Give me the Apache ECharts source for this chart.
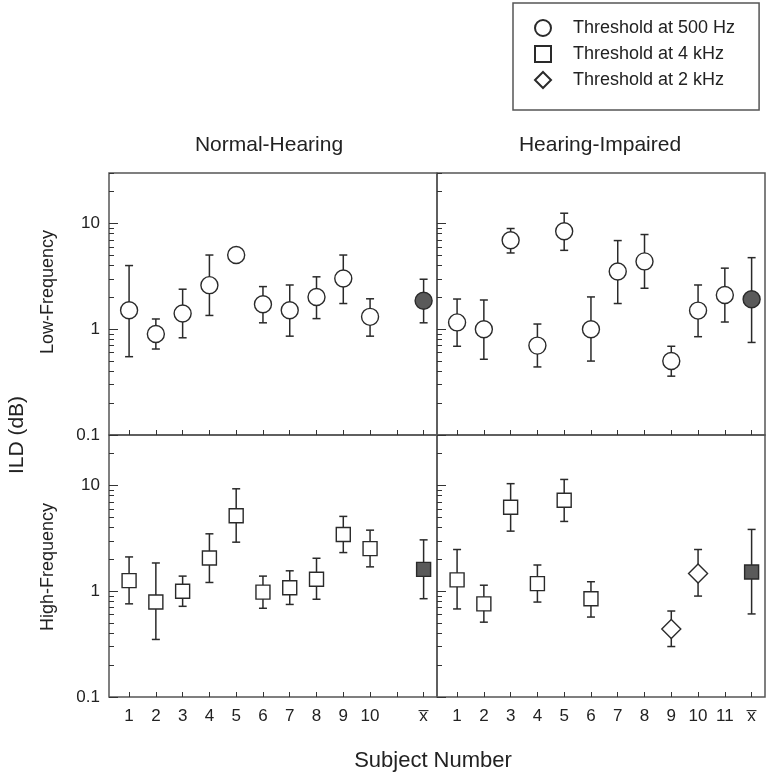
<!DOCTYPE html>
<html>
<head>
<meta charset="utf-8">
<script src="https://cdn.jsdelivr.net/npm/echarts@6/dist/echarts.min.js"></script>
<style>
html, body { margin: 0; padding: 0; background: #fff; }
#container { width: 771px; height: 778px; }
</style>
</head>
<body>
<div id="container"></div>
<script>
// tick labels of the two x axes (positions 1..12, 12 = mean)
var nhTickLabels = ['1', '2', '3', '4', '5', '6', '7', '8', '9', '10', '', 'x\u0305'];
var hiTickLabels = ['1', '2', '3', '4', '5', '6', '7', '8', '9', '10', '11', 'x\u0305'];
var xTickPos = [1, 2, 3, 4, 5, 6, 7, 8, 9, 10, 11, 12];
var yMajor = [0.1, 1, 10];
var yMinor = [0.2, 0.3, 0.4, 0.5, 0.6, 0.7, 0.8, 0.9, 2, 3, 4, 5, 6, 7, 8, 9, 20, 30];
var meanPos = 12;

// Normal-Hearing, low frequency (500 Hz)
var nhSubjects = [1, 2, 3, 4, 5, 6, 7, 8, 9, 10];
var nhLow = [1.51, 0.90, 1.41, 2.61, 5.03, 1.72, 1.51, 2.02, 3.02, 1.31];
var nhLowLo = [0.55, 0.65, 0.83, 1.35, 4.7, 1.15, 0.86, 1.26, 1.75, 0.86];
var nhLowHi = [4.0, 1.25, 2.39, 5.03, 5.4, 2.53, 2.62, 3.13, 5.03, 1.94];
var nhLowMean = [1.86, 1.15, 2.97]; // value, lo, hi

// Hearing-Impaired, low frequency (500 Hz)
var hiSubjects = [1, 2, 3, 4, 5, 6, 7, 8, 9, 10, 11];
var hiLow = [1.16, 1.0, 6.94, 0.70, 8.45, 1.0, 3.52, 4.38, 0.50, 1.50, 2.11];
var hiLowLo = [0.69, 0.52, 5.26, 0.44, 5.57, 0.50, 1.75, 2.44, 0.36, 0.85, 1.17];
var hiLowHi = [1.93, 1.89, 8.96, 1.12, 12.5, 2.02, 6.89, 7.86, 0.69, 2.62, 3.78];
var hiLowMean = [1.92, 0.75, 4.75];

// Normal-Hearing, high frequency (4 kHz)
var nhHigh = [1.26, 0.79, 1.0, 2.06, 5.18, 0.98, 1.08, 1.30, 3.44, 2.53];
var nhHighLo = [0.76, 0.35, 0.72, 1.21, 2.91, 0.69, 0.75, 0.84, 2.32, 1.70];
var nhHighHi = [2.11, 1.85, 1.39, 3.49, 9.3, 1.39, 1.56, 2.05, 5.1, 3.78];
var nhHighMean = [1.61, 0.85, 3.06];

// Hearing-Impaired, high frequency (4 kHz squares, 2 kHz diamonds)
var hiSqSubjects = [1, 2, 3, 4, 5, 6];
var hiHigh = [1.28, 0.76, 6.22, 1.18, 7.25, 0.85];
var hiHighLo = [0.68, 0.51, 3.70, 0.79, 4.57, 0.57];
var hiHighHi = [2.48, 1.14, 10.4, 1.77, 11.4, 1.23];
var hiDiaSubjects = [9, 10];
var hi2k = [0.44, 1.47];
var hi2kLo = [0.30, 0.90];
var hi2kHi = [0.65, 2.48];
var hiHighMean = [1.52, 0.61, 3.84];

var FONT = '"Liberation Sans", Arial, sans-serif';
var INK = '#222';
var names = ['Threshold at 500 Hz', 'Threshold at 4 kHz', 'Threshold at 2 kHz'];

var dom = document.getElementById('container');
var myChart = echarts.init(dom);

function pts(xs, ys) {
    return xs.map(function (x, i) { return [x, ys[i]]; });
}
function bars(xs, lo, hi) {
    return xs.map(function (x, i) { return [x, lo[i], hi[i]]; });
}

// vertical error bar with caps
function renderErr(params, api) {
    var x = api.value(0);
    var bot = api.coord([x, api.value(1)]);
    var top = api.coord([x, api.value(2)]);
    var cap = 4;
    var st = { stroke: '#2a2a2a', lineWidth: 1.5 };
    return {
        type: 'group',
        children: [
            { type: 'line', shape: { x1: top[0], y1: top[1], x2: bot[0], y2: bot[1] }, style: st },
            { type: 'line', shape: { x1: top[0] - cap, y1: top[1], x2: top[0] + cap, y2: top[1] }, style: st },
            { type: 'line', shape: { x1: bot[0] - cap, y1: bot[1], x2: bot[0] + cap, y2: bot[1] }, style: st }
        ]
    };
}

var grids = [
    { left: 109, top: 173, width: 328, height: 262 },
    { left: 437, top: 173, width: 328, height: 262 },
    { left: 109, top: 435, width: 328, height: 262 },
    { left: 437, top: 435, width: 328, height: 262 }
];
grids.forEach(function (g) {
    g.show = true;
    g.borderColor = '#555';
    g.borderWidth = 1.5;
    g.backgroundColor = 'transparent';
});

var xAxes = [];
var yAxes = [];
grids.forEach(function (g, i) {
    var labels = (i % 2 === 0) ? nhTickLabels : hiTickLabels;
    xAxes.push({
        type: 'value', gridIndex: i, min: 0.25, max: 12.5, position: 'bottom',
        axisLine: { show: false }, splitLine: { show: false },
        axisTick: { inside: true, length: 5, customValues: xTickPos, lineStyle: { color: '#333' } },
        axisLabel: {
            show: i >= 2, customValues: xTickPos, margin: 11,
            fontFamily: FONT, fontSize: 17, color: INK,
            formatter: function (v) { return labels[Math.round(v) - 1]; }
        }
    });
    // major ticks + labels
    yAxes.push({
        type: 'log', logBase: 10, gridIndex: i, min: 0.1, max: 30, position: 'left',
        axisLine: { show: false }, splitLine: { show: false },
        axisTick: { inside: true, length: 9, customValues: yMajor, lineStyle: { color: '#333' } },
        axisLabel: {
            show: i % 2 === 0, customValues: yMajor, margin: 9,
            fontFamily: FONT, fontSize: 17, color: INK
        }
    });
    // minor ticks
    yAxes.push({
        type: 'log', logBase: 10, gridIndex: i, min: 0.1, max: 30, position: 'left',
        axisLine: { show: false }, splitLine: { show: false },
        axisTick: { inside: true, length: 5, customValues: yMinor, lineStyle: { color: '#333' } },
        axisLabel: { show: false }
    });
});

var series = [];
function addPanel(i, errData, pointSets, meanVal) {
    series.push({
        type: 'custom', xAxisIndex: i, yAxisIndex: 2 * i, silent: true, z: 2,
        renderItem: renderErr, encode: { x: 0, y: [1, 2] },
        data: errData.concat([[meanPos, meanVal[1], meanVal[2]]])
    });
    pointSets.forEach(function (p) {
        series.push({
            name: p.name, type: 'scatter', xAxisIndex: i, yAxisIndex: 2 * i, z: 3,
            symbol: p.symbol, symbolSize: p.size,
            itemStyle: { color: '#fff', borderColor: '#2a2a2a', borderWidth: 1.4, opacity: 1 },
            data: p.data
        });
    });
    series.push({
        type: 'scatter', xAxisIndex: i, yAxisIndex: 2 * i, z: 3,
        symbol: pointSets[0].symbol, symbolSize: pointSets[0].size,
        itemStyle: { color: '#5a5a5a', borderColor: '#2a2a2a', borderWidth: 1.4, opacity: 1 },
        data: [[meanPos, meanVal[0]]]
    });
}

addPanel(0, bars(nhSubjects, nhLowLo, nhLowHi),
    [{ name: names[0], symbol: 'circle', size: 17, data: pts(nhSubjects, nhLow) }], nhLowMean);
addPanel(1, bars(hiSubjects, hiLowLo, hiLowHi),
    [{ name: names[0], symbol: 'circle', size: 17, data: pts(hiSubjects, hiLow) }], hiLowMean);
addPanel(2, bars(nhSubjects, nhHighLo, nhHighHi),
    [{ name: names[1], symbol: 'rect', size: 14, data: pts(nhSubjects, nhHigh) }], nhHighMean);
addPanel(3, bars(hiSqSubjects, hiHighLo, hiHighHi).concat(bars(hiDiaSubjects, hi2kLo, hi2kHi)),
    [{ name: names[1], symbol: 'rect', size: 14, data: pts(hiSqSubjects, hiHigh) },
     { name: names[2], symbol: 'diamond', size: 19, data: pts(hiDiaSubjects, hi2k) }], hiHighMean);

function txt(x, y, text, size, rot) {
    return {
        type: 'text', x: x, y: y, rotation: rot || 0, silent: true,
        style: { text: text, fill: INK, font: size + 'px ' + FONT, align: 'center', verticalAlign: 'middle' }
    };
}

var option = {
    backgroundColor: '#fff',
    animation: false,
    grid: grids,
    xAxis: xAxes,
    yAxis: yAxes,
    legend: {
        orient: 'vertical', left: 513, top: 3,
        data: names,
        selectedMode: false,
        itemWidth: 16, itemHeight: 16, itemGap: 8,
        padding: [16, 24, 21, 21],
        borderColor: '#555', borderWidth: 1.5,
        textStyle: { fontFamily: FONT, fontSize: 18, color: INK, padding: [0, 0, 0, 17] }
    },
    graphic: [
        txt(269, 145, 'Normal-Hearing', 21),
        txt(600, 145, 'Hearing-Impaired', 21),
        txt(17, 435, 'ILD (dB)', 21, Math.PI / 2),
        txt(48, 292, 'Low-Frequency', 18, Math.PI / 2),
        txt(48, 567, 'High-Frequency', 18, Math.PI / 2),
        txt(433, 761, 'Subject Number', 22)
    ],
    series: series
};

if (option && typeof option === 'object') {
    myChart.setOption(option, true);
}
</script>
</body>
</html>
